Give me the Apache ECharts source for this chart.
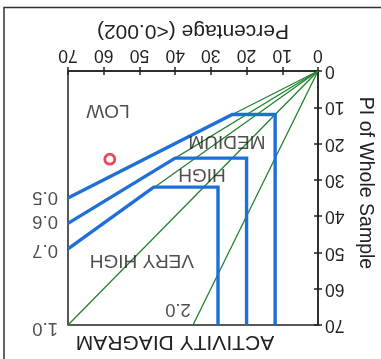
<!DOCTYPE html>
<html>
<head>
<meta charset="utf-8">
<script src="https://cdn.jsdelivr.net/npm/echarts@6/dist/echarts.min.js"></script>
<style>
  html, body { margin: 0; padding: 0; background: #fff; }
  #chart { width: 381px; height: 359px; }
</style>
</head>
<body>
<div id="chart"></div>
<script>
// Axis ticks (both axes run 0..70)
const axisMin = 0;
const axisMax = 70;
const axisStep = 10;

// Ratio lines PI / percentage, drawn from the origin to the frame edge
const ratioNames = ['0.5', '0.6', '0.7', '1.0', '2.0'];
const ratioEndPct = [70, 70, 70, 70, 35];
const ratioEndPI = [35, 42, 49, 70, 70];
// where each ratio value is written
const ratioLabelPct = [76.4, 76.4, 76.4, 76.4, 39.2];
const ratioLabelPI = [34.8, 41.4, 49.4, 70.8, 65.6];

// Class boundaries as [percentage, PI] vertices
const lowBoundary = [[70, 35], [24, 12], [12, 12], [12, 70]];
const mediumBoundary = [[70, 42], [40, 24], [20, 24], [20, 70]];
const highBoundary = [[70, 49], [46, 32], [28, 32], [28, 70]];

// Class names and where they sit
const classNames = ['LOW', 'MEDIUM', 'HIGH', 'VERY HIGH'];
const classPct = [58.8, 25.5, 32.5, 49.3];
const classPI = [10.8, 19.4, 28.4, 52.1];

// Sample point
const samplePct = [58.3];
const samplePI = [24.3];

const FONT = '"Liberation Sans", Arial, sans-serif';
const INK = '#222';
const GREEN = '#22832f';
const BLUE = '#1f6fd8';

const chart = echarts.init(document.getElementById('chart'), null, { renderer: 'canvas' });

const series = [];

ratioNames.forEach(function (name, i) {
  series.push({
    type: 'line',
    name: 'ratio ' + name,
    xAxisIndex: 0, yAxisIndex: 0,
    data: [[0, 0], [ratioEndPct[i], ratioEndPI[i]]],
    symbol: 'none',
    lineStyle: { color: GREEN, width: 1.3 },
    z: 2,
    silent: true
  });
});

[lowBoundary, mediumBoundary, highBoundary].forEach(function (pts, i) {
  series.push({
    type: 'line',
    name: 'boundary ' + i,
    xAxisIndex: 0, yAxisIndex: 0,
    data: pts,
    symbol: 'none',
    lineStyle: { color: BLUE, width: 3.4, join: 'miter' },
    z: 3,
    silent: true
  });
});

// ratio value labels
series.push({
  type: 'scatter',
  xAxisIndex: 0, yAxisIndex: 0,
  clip: false,
  symbolSize: 0,
  data: ratioNames.map(function (n, i) { return { value: [ratioLabelPct[i], ratioLabelPI[i]], name: n }; }),
  label: {
    show: true, position: 'inside', rotate: 180,
    formatter: '{b}', color: INK, fontFamily: FONT, fontSize: 18.5
  },
  z: 5, silent: true
});

// class names
series.push({
  type: 'scatter',
  xAxisIndex: 0, yAxisIndex: 0,
  symbolSize: 0,
  data: classNames.map(function (n, i) { return { value: [classPct[i], classPI[i]], name: n }; }),
  label: {
    show: true, position: 'inside', rotate: 180,
    formatter: '{b}', color: INK, fontFamily: FONT, fontSize: 19
  },
  z: 5, silent: true
});

// sample
series.push({
  type: 'scatter',
  xAxisIndex: 0, yAxisIndex: 0,
  symbol: 'circle',
  symbolSize: 10,
  data: samplePct.map(function (p, i) { return [p, samplePI[i]]; }),
  itemStyle: { color: '#fff', borderColor: '#e8192c', borderWidth: 2.8 },
  z: 6, silent: true
});

const baseX = {
  type: 'value', min: axisMin, max: axisMax, interval: axisStep,
  inverse: true, position: 'top', splitLine: { show: false }
};
const baseY = {
  type: 'value', min: axisMin, max: axisMax, interval: axisStep,
  inverse: true, position: 'right', splitLine: { show: false }
};

chart.setOption({
  animation: false,
  backgroundColor: '#fff',
  grid: {
    left: 68, right: 63, top: 71, bottom: 34,
    show: true, borderColor: INK, borderWidth: 1.5, backgroundColor: 'transparent',
    outerBoundsMode: 'none'
  },
  xAxis: [
    Object.assign({}, baseX, {
      axisLine: { show: true, lineStyle: { color: INK, width: 1.5 } },
      axisTick: { show: true, inside: false, length: 4, lineStyle: { color: INK, width: 1.5 } },
      axisLabel: { show: true, rotate: 180, margin: 7, color: INK, fontFamily: FONT, fontSize: 17.5 },
      name: 'Percentage (<0.002)',
      nameLocation: 'middle', nameRotate: 180, nameGap: 30,
      nameTextStyle: { color: INK, fontFamily: FONT, fontSize: 21 }
    }),
    Object.assign({}, baseX, {
      axisLine: { show: false },
      axisTick: { show: true, inside: true, length: 4, lineStyle: { color: INK, width: 1.5 } },
      axisLabel: { show: false }
    })
  ],
  yAxis: [
    Object.assign({}, baseY, {
      axisLine: { show: true, lineStyle: { color: INK, width: 1.5 } },
      axisTick: { show: true, inside: false, length: 4, lineStyle: { color: INK, width: 1.5 } },
      axisLabel: { show: true, rotate: 180, margin: 7, color: INK, fontFamily: FONT, fontSize: 17.5 },
      name: 'PI of Whole Sample',
      nameLocation: 'middle', nameRotate: -90, nameGap: 33,
      nameTextStyle: { color: INK, fontFamily: FONT, fontSize: 19.5, padding: [0, 30, 0, 0] }
    }),
    Object.assign({}, baseY, {
      axisLine: { show: false },
      axisTick: { show: true, inside: true, length: 4, lineStyle: { color: INK, width: 1.5 } },
      axisLabel: { show: false }
    })
  ],
  series: series,
  graphic: [
    {
      type: 'rect',
      shape: { x: 4, y: 7.5, width: 420, height: 420 },
      style: { fill: 'none', stroke: '#333', lineWidth: 1.5 },
      silent: true
    },
    {
      type: 'text',
      x: 175, y: 342, rotation: Math.PI,
      style: {
        text: 'ACTIVITY DIAGRAM', fill: INK, font: '21px ' + FONT,
        textAlign: 'center', textVerticalAlign: 'middle'
      },
      silent: true
    }
  ]
});
</script>
</body>
</html>
